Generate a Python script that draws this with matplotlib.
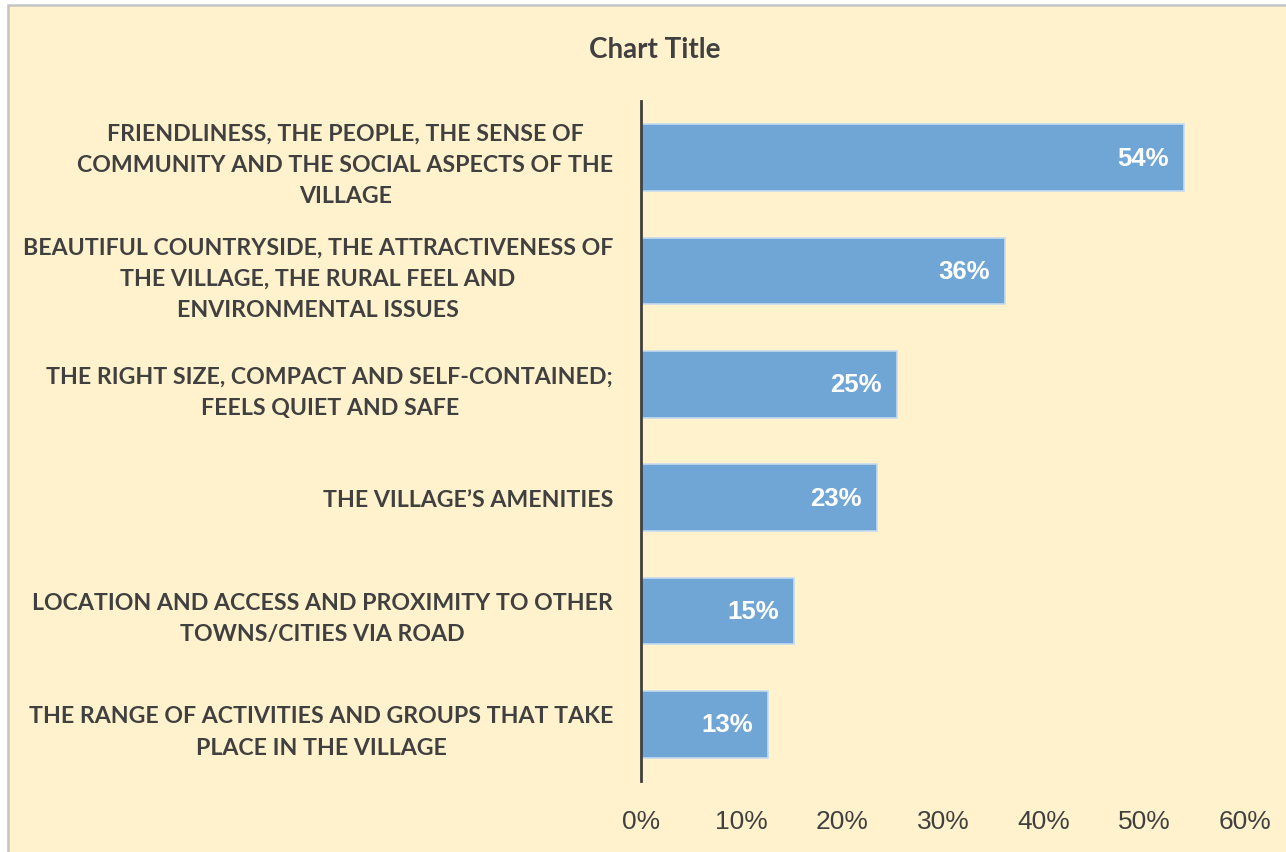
import matplotlib
matplotlib.use("Agg")
import matplotlib.pyplot as plt
from matplotlib.patches import Rectangle

categories = [
    "FRIENDLINESS, THE PEOPLE, THE SENSE OF\nCOMMUNITY AND THE SOCIAL ASPECTS OF THE\nVILLAGE",
    "BEAUTIFUL COUNTRYSIDE, THE ATTRACTIVENESS OF\nTHE VILLAGE, THE RURAL FEEL AND\nENVIRONMENTAL ISSUES",
    "THE RIGHT SIZE, COMPACT AND SELF-CONTAINED;\nFEELS QUIET AND SAFE",
    "THE VILLAGE\u2019S AMENITIES",
    "LOCATION AND ACCESS AND PROXIMITY TO OTHER\nTOWNS/CITIES VIA ROAD",
    "THE RANGE OF ACTIVITIES AND GROUPS THAT TAKE\nPLACE IN THE VILLAGE",
]
values = [53.9, 36.2, 25.4, 23.4, 15.2, 12.6]
xticks = [0, 10, 20, 30, 40, 50, 60]
xtick_labels = ["0%", "10%", "20%", "30%", "40%", "50%", "60%"]
title = "Chart Title"

W, H = 1286, 853
fig = plt.figure(figsize=(W / 100, H / 100), dpi=100, facecolor="white")
bg = Rectangle((8 / W, -0.1), 1.2, 1 - 6 / H + 0.1, transform=fig.transFigure,
               facecolor="#FFF2CC", edgecolor="#C4C4C4", linewidth=1.8, zorder=-10)
fig.patches.append(bg)

ax = fig.add_axes([641 / W, 1 - 782 / H, (1245 - 641) / W, (782 - 102) / H])
ax.set_facecolor("none")

ypos = list(range(len(categories)))
bars = ax.barh(ypos, values, height=0.59, color="#70A6D5", edgecolor="#C5DCF0",
               linewidth=1.2, zorder=2)
ax.set_ylim(len(categories) - 0.5, -0.5)
ax.set_xlim(0, 60)

for rect, v in zip(bars, values):
    ax.annotate(f"{v:.0f}%", xy=(rect.get_width(), rect.get_y() + rect.get_height() / 2),
                xytext=(-11, 0), textcoords="offset points", ha="right", va="center",
                color="white", fontsize=18.5, fontweight="bold", family="Liberation Sans")

ax.set_yticks(ypos)
ax.set_yticklabels(categories, ha="right", multialignment="center",
                   family="Lato", fontweight="bold", fontsize=16.7, color="#404040",
                   linespacing=1.6)
ax.set_xticks(xticks)
ax.set_xticklabels(xtick_labels, family="Liberation Sans", fontsize=19, color="#404040")
ax.tick_params(axis="y", length=0, pad=20)
ax.tick_params(axis="x", length=0, pad=20)

for s in ["top", "right", "bottom"]:
    ax.spines[s].set_visible(False)
ax.spines["left"].set_color("#404040")
ax.spines["left"].set_linewidth(2)
ax.spines["left"].set_zorder(3)

fig.text(655 / W, 1 - 50 / H, title, ha="center", va="center", fontsize=20,
         fontweight="bold", color="#404040", family="Lato")

fig.savefig("out.png", dpi=100, facecolor="white")
